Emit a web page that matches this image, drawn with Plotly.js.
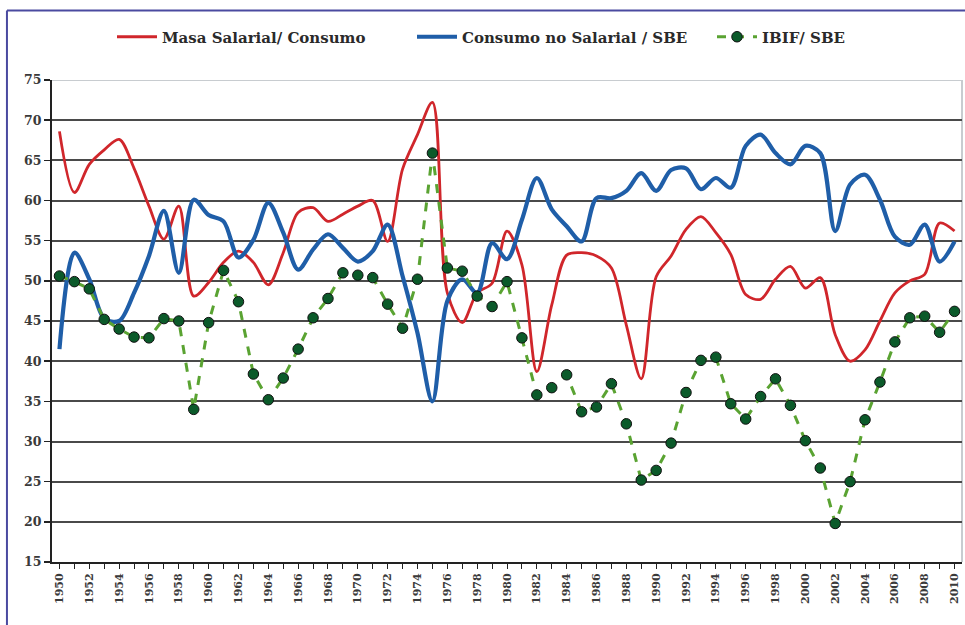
<!DOCTYPE html>
<html>
<head>
<meta charset="utf-8">
<script src="https://cdn.plot.ly/plotly-3.0.1.min.js"></script>
<style>
html,body{margin:0;padding:0;background:#fff;}
#chart{width:965px;height:625px;}
</style>
</head>
<body>
<div id="chart"></div>
<script>
const years = [];
for (let y = 1950; y <= 2010; y++) years.push(y);

const masaSalarial = [68.6, 61.0, 64.5, 66.3, 67.6, 64.0, 59.3, 55.2, 59.3, 48.1,
  49.8, 52.3, 53.7, 52.3, 49.5, 53.5, 58.5, 59.1, 57.4, 58.3,
  59.3, 60.0, 54.9, 63.9, 68.2, 72.2, 48.5, 44.8, 48.5, 49.7,
  56.2, 52.0, 38.7, 47.0, 53.2, 53.5, 53.1, 51.6, 44.5, 37.8,
  50.5, 53.1, 56.4, 58.0, 56.0, 53.3, 48.3, 47.7, 50.2, 51.8,
  49.1, 50.4, 43.3, 40.0, 41.4, 45.0, 48.5, 50.0, 50.8, 57.2,
  56.2];

const consumoNoSalarial = [41.5, 53.5, 50.2, 45.3, 45.0, 48.5, 53.1, 58.7, 51.0, 60.1,
  58.2, 57.4, 52.9, 55.1, 59.7, 56.0, 51.4, 53.9, 55.8, 54.1,
  52.4, 53.7, 57.0, 50.6, 43.5, 35.0, 47.5, 50.2, 48.5, 54.7,
  52.7, 57.6, 62.8, 58.9, 56.8, 54.9, 60.3, 60.3, 61.2, 63.4,
  61.2, 63.8, 64.0, 61.4, 62.8, 61.6, 66.8, 68.2, 65.9, 64.5,
  66.8, 65.9, 56.2, 62.0, 63.2, 60.1, 55.5, 54.5, 57.0, 52.4,
  54.9];

const ibifSbe = [50.6, 49.9, 49.0, 45.2, 44.0, 43.0, 42.9, 45.3, 45.0, 34.0,
  44.8, 51.3, 47.4, 38.4, 35.2, 37.9, 41.5, 45.4, 47.8, 51.0,
  50.7, 50.4, 47.1, 44.1, 50.2, 65.9, 51.6, 51.2, 48.1, 46.8,
  49.9, 42.9, 35.8, 36.7, 38.3, 33.7, 34.3, 37.2, 32.2, 25.2,
  26.4, 29.8, 36.1, 40.1, 40.5, 34.7, 32.8, 35.6, 37.8, 34.5,
  30.1, 26.7, 19.8, 25.0, 32.7, 37.4, 42.4, 45.4, 45.6, 43.6,
  46.2];

const seriesNames = ["Masa Salarial/ Consumo", "Consumo no Salarial / SBE", "IBIF/ SBE"];
const tickYears = years.filter(y => (y - 1950) % 2 === 0);
const tickLabels = tickYears.map(String);

const fontFam = "DejaVu Serif, Liberation Serif, serif";

const traces = [
  {
    x: years, y: masaSalarial, name: seriesNames[0], type: "scatter", mode: "lines",
    line: {color: "#d0262b", width: 2.8, shape: "spline", smoothing: 0.9}
  },
  {
    x: years, y: consumoNoSalarial, name: seriesNames[1], type: "scatter", mode: "lines",
    line: {color: "#1f5ea8", width: 4.2, shape: "spline", smoothing: 0.9}
  },
  {
    x: years, y: ibifSbe, name: seriesNames[2], type: "scatter", mode: "lines+markers",
    line: {color: "#5aa332", width: 3, dash: "dash"},
    marker: {color: "#0b5a2a", size: 10.5, line: {color: "#111", width: 1}}
  }
];

const layout = {
  width: 965, height: 625,
  paper_bgcolor: "#fff", plot_bgcolor: "#fff",
  margin: {l: 52, r: 3, t: 80, b: 63},
  showlegend: true,
  legend: {
    orientation: "h", xref: "container", yref: "container",
    x: 112 / 965, xanchor: "left", y: 1 - 37 / 625, yanchor: "middle",
    font: {family: fontFam, size: 15, color: "#2a2a2a", weight: "bold"},
    itemwidth: 40, tracegroupgap: 0, bgcolor: "rgba(0,0,0,0)",
    entrywidth: 245, entrywidthmode: "pixels"
  },
  xaxis: {
    range: [1949.5, 2010.5],
    tickmode: "array", tickvals: tickYears, ticktext: tickLabels,
    tickangle: -90,
    ticks: "outside", ticklen: 5, tickwidth: 1, tickcolor: "#222",
    minor: {dtick: 1, tick0: 1950, ticks: "outside", ticklen: 5, tickwidth: 1, tickcolor: "#222", showgrid: false},
    showgrid: false, zeroline: false,
    showline: true, linecolor: "#222", linewidth: 2,
    tickfont: {family: fontFam, size: 11, color: "#3a3a3a", weight: "bold"},
    fixedrange: true
  },
  yaxis: {
    range: [15, 75], dtick: 5, tick0: 15,
    ticks: "outside", ticklen: 6, tickwidth: 1.5, tickcolor: "#222",
    showgrid: true, gridcolor: "#4a4a4a", gridwidth: 2,
    zeroline: false,
    showline: true, linecolor: "#222", linewidth: 2,
    tickfont: {family: fontFam, size: 12.5, color: "#3a3a3a", weight: "bold"},
    fixedrange: true
  },
  shapes: [
    {type: "line", xref: "paper", yref: "y", x0: 0, x1: 1, y0: 75, y1: 75,
     line: {color: "#c8ccd0", width: 2}, layer: "above"},
    {type: "line", xref: "paper", yref: "paper", x0: 1, x1: 1, y0: 0, y1: 1,
     line: {color: "#c8ccd0", width: 2}, layer: "below"},
    {type: "line", xref: "paper", yref: "paper", x0: -0.0495, x1: -0.0495, y0: -0.2, y1: 1.144,
     line: {color: "#4a4aa0", width: 2}},
    {type: "line", xref: "paper", yref: "paper", x0: -0.0495, x1: 1.01, y0: 1.144, y1: 1.144,
     line: {color: "#4a4aa0", width: 2}}
  ]
};

Plotly.newPlot("chart", traces, layout, {displayModeBar: false, staticPlot: true});
</script>
</body>
</html>
